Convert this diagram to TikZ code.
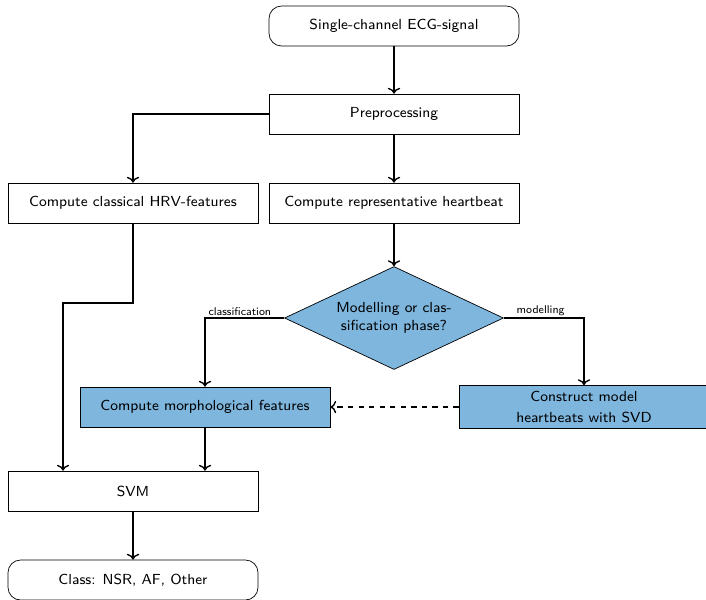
\documentclass[tikz,border=0pt]{standalone}
\usepackage{tikz}
\usetikzlibrary{arrows.meta, positioning, shapes.geometric, calc}
\definecolor{phaseblue}{RGB}{126,182,222}

\begin{document}
\begin{tikzpicture}[x=0.02cm, y=-0.02cm, font=\sffamily\fontsize{8.3}{10}\selectfont,
      block/.style={rectangle, draw, fill=white, minimum width=5cm, minimum height=0.8cm},
      bluebox/.style={block, fill=phaseblue, align=center},
      terminal/.style={block, rounded corners=2.5mm},
      decision/.style={diamond, draw, fill=phaseblue, aspect=2.1, inner sep=0pt, minimum width=4.38cm, minimum height=2.06cm, align=center},
      flow/.style={->, thick},
      branch/.style={font=\sffamily\fontsize{6.4}{7}\selectfont, above, inner sep=1pt}]

      \useasboundingbox (0,0) rectangle (706,599);

      \node[terminal] (signal) at (394,26) {Single-channel ECG-signal};
      \node[block] (prep) at (394,114) {Preprocessing};
      \node[block] (hrv) at (133,203) {Compute classical HRV-features};
      \node[block] (rep) at (394,203) {Compute representative heartbeat};
      \node[decision] (phase) at (394,318) {Modelling or clas-\\sification phase?};
      \node[bluebox] (morph) at (205,407) {Compute morphological features};
      \node[bluebox] (model) at (584,407) {Construct model\\[1.8pt]heartbeats with SVD};
      \node[block] (svm) at (133,491) {SVM};
      \node[terminal] (cls) at (133,580) {Class: NSR, AF, Other};

      % main flow
      \draw[flow] (signal) -- (prep);
      \draw[flow] (prep.west) -| (hrv.north);
      \draw[flow] (prep) -- (rep);
      \draw[flow] (rep) -- (phase);

      % the two phases
      \draw[flow] (phase.west) -| node[branch, pos=0.28] {classification} (morph.north);
      \draw[flow] (phase.east) -| node[branch, pos=0.23] {modelling} (model.north);
      \draw[flow, dashed] (model) -- (morph);

      % into the classifier
      \coordinate (bend) at (63,303);
      \draw[flow] (hrv.south) |- (bend) -- (bend |- svm.north);
      \draw[flow] (morph.south) -- (morph.south |- svm.north);
      \draw[flow] (svm) -- (cls);
    \end{tikzpicture}
\end{document}
